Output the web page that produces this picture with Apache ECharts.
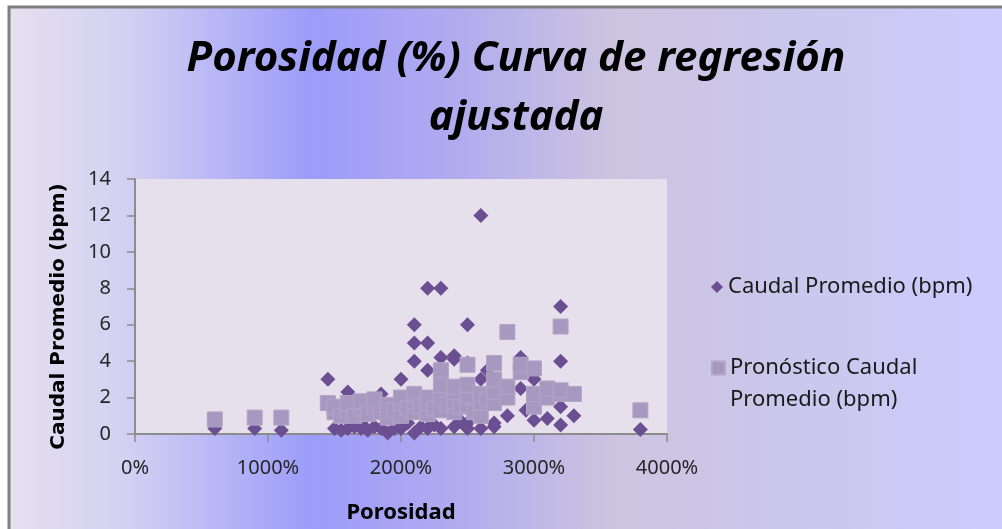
<!DOCTYPE html>
<html>
<head>
<meta charset="utf-8">
<script src="https://cdn.jsdelivr.net/npm/echarts@6/dist/echarts.min.js"></script>
<style>
  html, body { margin: 0; padding: 0; background: #ffffff; }
  #chart { width: 1002px; height: 529px; }
</style>
</head>
<body>
<div id="chart"></div>
<script>
// porosidad (x, 1 = 100%) vs caudal promedio (bpm)
const caudalReal = [
  [6, 0.3], [9, 0.3], [11, 0.2],
  [14.5, 3.0], [15, 0.3], [15.5, 0.2], [16, 2.3], [16, 0.3], [16.5, 0.4],
  [17, 0.3], [17, 0.6], [17.5, 0.2], [18, 0.4], [18.5, 2.2], [18.5, 0.3],
  [19, 0.05], [19.5, 0.3], [20, 3.0], [20, 0.3], [20.5, 0.6],
  [21, 6.0], [21, 5.0], [21, 4.0], [21, 0.05], [21.5, 0.4],
  [22, 8.0], [22, 5.0], [22, 3.5], [22, 0.3], [22.5, 0.5],
  [23, 8.0], [23, 4.2], [23, 0.3], [23.5, 1.5],
  [24, 4.3], [24, 4.1], [24, 2.5], [24, 0.4], [24.5, 0.7],
  [25, 6.0], [25, 3.9], [25, 0.6], [25, 0.3], [25.5, 1.2],
  [26, 12.0], [26, 3.0], [26, 0.3], [26.5, 3.5], [27, 0.6], [27, 0.4],
  [28, 1.0], [28, 2.5], [29, 4.2], [29, 2.5], [29.4, 1.3],
  [30, 3.0], [30, 0.75], [31, 0.85],
  [32, 7.0], [32, 4.0], [32, 1.5], [32, 0.5], [33, 1.0], [38, 0.25]
];

const caudalPronostico = [
  [6, 0.8], [9, 0.9], [11, 0.9], [14.5, 1.7],
  [15, 1.2], [15, 1.5], [15.5, 1.0], [16, 1.3], [16, 1.7], [16.5, 1.0],
  [17, 1.4], [17, 1.8], [17.5, 1.1], [18, 1.5], [18, 1.9], [18.5, 1.2],
  [19, 0.9], [19, 1.6], [19.5, 1.3], [20, 1.0], [20, 1.7], [20, 2.0], [20.5, 1.4],
  [21, 1.2], [21, 1.8], [21, 2.2], [21.5, 1.5], [22, 1.1], [22, 1.7], [22, 2.0], [22.5, 1.4],
  [23, 1.3], [23, 1.9], [23, 2.7], [23, 3.5], [23.5, 1.6],
  [24, 1.2], [24, 1.8], [24, 2.3], [24, 2.6], [24.5, 1.5],
  [25, 1.6], [25, 2.1], [25, 2.7], [25, 3.8], [25.5, 1.2],
  [26, 1.0], [26, 1.7], [26, 2.2], [26.5, 1.9],
  [27, 1.7], [27, 2.3], [27, 3.0], [27, 3.9],
  [28, 2.0], [28, 2.6], [28, 5.6], [29, 3.4], [29, 3.8],
  [30, 1.5], [30, 2.2], [30, 3.6], [31, 2.0], [31, 2.5],
  [32, 2.2], [32, 2.4], [32, 5.9], [33, 2.2], [38, 1.3]
];

const serieNames = ['Caudal Promedio (bpm)', 'Pronóstico Caudal Promedio (bpm)'];

const chart = echarts.init(document.getElementById('chart'), null, { renderer: 'canvas' });

const labelFont = 'Noto Sans';

const option = {
  animation: false,
  backgroundColor: '#ffffff',
  graphic: [{
    type: 'rect',
    z: -10,
    silent: true,
    shape: { x: 9, y: 7, width: 1010, height: 540 },
    style: {
      fill: new echarts.graphic.LinearGradient(0, 0, 1, 0, [
        { offset: 0, color: '#e6e0ef' },
        { offset: 0.12, color: '#d2d0f2' },
        { offset: 0.3, color: '#9c9cfa' },
        { offset: 0.45, color: '#b2acee' },
        { offset: 0.6, color: '#cdc4e0' },
        { offset: 0.75, color: '#cbc6ea' },
        { offset: 1, color: '#ccccff' }
      ]),
      stroke: '#808080',
      lineWidth: 3
    }
  }],
  title: {
    text: 'Porosidad (%) Curva de regresión\najustada',
    left: 511,
    textAlign: 'center',
    top: 25,
    textStyle: {
      fontFamily: labelFont,
      fontSize: 42,
      fontWeight: 'bold',
      fontStyle: 'italic',
      color: '#000000',
      lineHeight: 59
    }
  },
  legend: [{
    data: [serieNames[0]],
    orient: 'vertical',
    left: 706,
    top: 271,
    itemWidth: 12,
    itemHeight: 12,
    textStyle: { fontFamily: labelFont, fontSize: 22, color: '#1a1a1a' }
  }, {
    data: [serieNames[1]],
    orient: 'vertical',
    left: 706,
    top: 315,
    itemWidth: 13,
    itemHeight: 13,
    // leading blank line so the marker sits beside the first text line
    formatter: () => ' \nPronóstico Caudal\nPromedio (bpm)',
    textStyle: {
      fontFamily: labelFont, fontSize: 22, color: '#1a1a1a',
      lineHeight: 32
    }
  }],
  grid: {
    left: 135,
    top: 179,
    right: 335,
    bottom: 95,
    show: true,
    backgroundColor: '#e6e0ec',
    borderWidth: 0
  },
  xAxis: {
    type: 'value',
    min: 0,
    max: 40,
    interval: 10,
    name: 'Porosidad',
    nameLocation: 'middle',
    nameGap: 68,
    nameTextStyle: { fontFamily: labelFont, fontSize: 22, fontWeight: 'bold', color: '#000' },
    axisLine: { show: true, onZero: false, lineStyle: { color: '#8c8c8c', width: 2 } },
    axisTick: { show: true, length: 8, inside: false, lineStyle: { color: '#8c8c8c', width: 1.5 } },
    splitLine: { show: false },
    axisLabel: {
      margin: 24,
      fontFamily: labelFont,
      fontSize: 20,
      color: '#262626',
      formatter: v => (v * 100) + '%'
    }
  },
  yAxis: {
    type: 'value',
    min: 0,
    max: 14,
    interval: 2,
    name: 'Caudal Promedio (bpm)',
    nameLocation: 'middle',
    nameGap: 66,
    nameRotate: 90,
    nameTextStyle: {
      fontFamily: 'DejaVu Sans', fontSize: 20, fontWeight: 'bold', color: '#000',
      padding: [0, 20, 0, 0]
    },
    axisLine: { show: true, onZero: false, lineStyle: { color: '#8c8c8c', width: 2 } },
    axisTick: { show: true, length: 8, inside: false, lineStyle: { color: '#8c8c8c', width: 1.5 } },
    splitLine: { show: false },
    axisLabel: {
      margin: 24,
      fontFamily: labelFont,
      fontSize: 20,
      color: '#262626'
    }
  },
  series: [{
    name: serieNames[0],
    type: 'scatter',
    symbol: 'diamond',
    symbolSize: 15,
    itemStyle: { color: '#6b4f92', opacity: 1 },
    data: caudalReal
  }, {
    name: serieNames[1],
    type: 'scatter',
    symbol: 'rect',
    symbolSize: 15,
    itemStyle: { color: '#a798bf', borderColor: '#b2a5c8', borderWidth: 1, opacity: 1 },
    data: caudalPronostico
  }]
};

chart.setOption(option);
</script>
</body>
</html>
